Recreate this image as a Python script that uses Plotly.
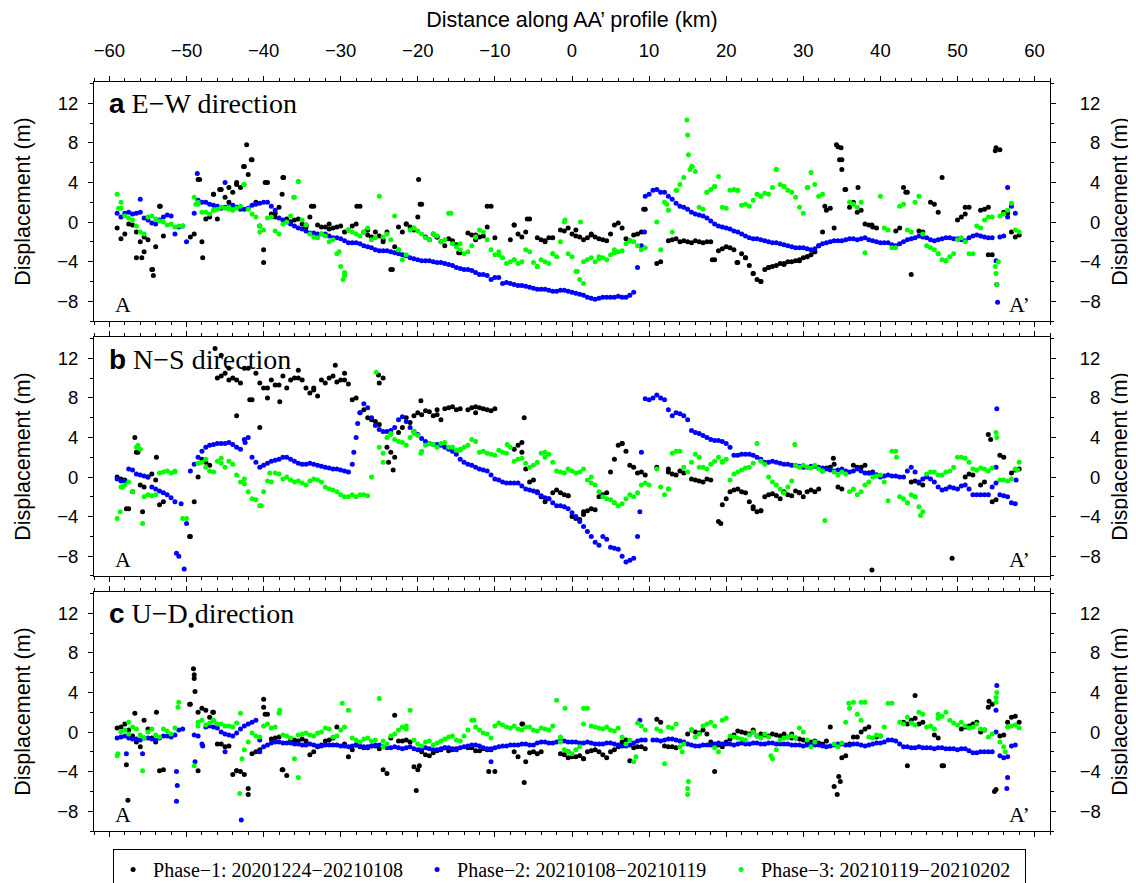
import plotly.graph_objects as go

# ---------------- data ----------------
# sample positions along the profile (km)
X_KM = [-59, -58, -57, -56, -55, -54, -53, -52, -51, -50, -49, -48, -47, -46, -45, -44, -43, -42, -41, -40,
        -39, -38, -37, -36, -35, -34, -33, -32, -31, -30, -29, -28, -27, -26, -25, -24, -23, -22, -21, -20,
        -19, -18, -17, -16, -15, -14, -13, -12, -11, -10, -9, -8, -7, -6, -5, -4, -3, -2, -1, 0,
        1, 2, 3, 4, 5, 6, 7, 8, 9, 10, 11, 12, 13, 14, 15, 16, 17, 18, 19, 20,
        21, 22, 23, 24, 25, 26, 27, 28, 29, 30, 31, 32, 33, 34, 35, 36, 37, 38, 39, 40,
        41, 42, 43, 44, 45, 46, 47, 48, 49, 50, 51, 52, 53, 54, 55, 56, 57, 58]
# intermediate positions (half-km)
X_HALF = [-58.5, -57.5, -56.5, -55.5, -54.5, -53.5, -52.5, -51.5, -50.5, -49.5,
          -48.5, -47.5, -46.5, -45.5, -44.5, -43.5, -42.5, -41.5, -40.5, -39.5,
          -38.5, -37.5, -36.5, -35.5, -34.5, -33.5, -32.5, -31.5, -30.5, -29.5,
          -28.5, -27.5, -26.5, -25.5, -24.5, -23.5, -22.5, -21.5, -20.5, -19.5,
          -18.5, -17.5, -16.5, -15.5, -14.5, -13.5, -12.5, -11.5, -10.5, -9.5,
          -8.5, -7.5, -6.5, -5.5, -4.5, -3.5, -2.5, -1.5, -0.5, 0.5,
          1.5, 2.5, 3.5, 4.5, 5.5, 6.5, 7.5, 8.5, 9.5, 10.5,
          11.5, 12.5, 13.5, 14.5, 15.5, 16.5, 17.5, 18.5, 19.5, 20.5,
          21.5, 22.5, 23.5, 24.5, 25.5, 26.5, 27.5, 28.5, 29.5, 30.5,
          31.5, 32.5, 33.5, 34.5, 35.5, 36.5, 37.5, 38.5, 39.5, 40.5,
          41.5, 42.5, 43.5, 44.5, 45.5, 46.5, 47.5, 48.5, 49.5, 50.5,
          51.5, 52.5, 53.5, 54.5, 55.5, 56.5, 57.5]

N = None

# ---- panel a: E-W ----
EW_P1 = [-0.6, -1.2, -0.3, -2.0, -1.8, -2.5, -1.4, N, N, N, -1.2, -2.0, 0.5, 0.3, 2.5, 3.0, 3.5, 4.8, 2.0, -2.8,
         0.8, 1.5, 0.3, 0.2, -0.2, 0.5, -0.3, -0.5, -0.6, -0.4, -0.8, -0.2, -1.0, -1.5, -1.4, -1.0, -2.5, -1.0, -0.5, 0.5,
         -1.5, -1.2, -2.0, -1.7, -2.3, N, -1.3, -1.5, -0.5, -1.6, N, -1.8, -1.2, -1.0, N, -1.8, -1.6, N, -0.9, -1.2,
         -1.5, -1.6, -1.5, -1.8, -1.2, -0.1, -1.7, -1.3, -1.0, N, -4.2, N, -1.8, -2.0, -2.0, -1.9, -2.1, -2.0, -2.9, -2.5,
         -2.8, -3.2, -4.4, -5.8, -4.8, -4.5, -4.2, -4.0, -3.9, -3.6, -3.3, -2.4, 1.2, -0.6, 6.3, 1.5, 1.0, -0.2, -0.5, N,
         N, -0.9, 3.5, -5.3, -0.9, N, 1.8, 4.5, N, 0.2, 0.8, N, 1.2, 1.5, 7.5, 1.0, -1.0, -1.3]
EW_P1_HALF = [-1.7, -0.2, -3.6, -1.5, -4.8, 1.6, N, N, N, -1.5,
              4.3, 0.3, 2.8, 3.3, 3.5, 3.8, 5.6, 6.3, -0.4, 4.0,
              0.9, 4.5, 0.0, 0.3, -0.3, 1.6, -0.5, -0.7, -0.5, -1.0,
              -0.4, 1.6, -1.3, -1.0, -2.0, -4.8, -0.5, -0.2, -0.8, 1.8,
              -1.8, -1.5, -2.4, -1.9, -3.1, -1.1, -1.3, -1.4, 1.6, N,
              N, -0.3, -1.5, 0.3, -1.6, -1.9, -1.6, -0.8, -0.6, -1.4,
              -1.8, -1.3, -1.7, -1.9, -0.3, -0.6, -1.9, -1.2, 1.3, N,
              -4.0, -1.9, -1.7, -1.9, -2.1, -2.0, -2.0, -3.8, -2.7, -2.6,
              -4.1, -3.6, -5.2, -6.0, -4.6, -4.4, -4.2, -4.0, -3.8, -3.5,
              -3.0, -1.0, 1.4, 7.6, 3.3, 2.0, 1.2, -0.3, -0.6, N,
              N, -0.6, 3.0, N, -1.0, 2.0, 1.0, N, N, 0.5,
              1.5, N, 1.3, -3.3, 7.3, 0.9, -1.5]
EW_P1_EXTRA_X = [-55.8, -54.4, -54.3, -53.4, -48.3, -47.9, -46.5, -45.7, -42.2, -41.6, -42.6, -39.8, -40.0, -37.4,
                 -37.6, -33.8, -27.9, -23.3, -19.9, -19.7, -14.7, -11.0, -5.8, 9.3, 18.2, 21.4, 34.3, 34.9, 34.7,
                 35.0, 35.4, 37.1, 43.3, 54.9, 54.0, 32.8, 38.9, 24.5, 25.5, 29.5, 51.0, -56.5, -55.5, -44.5,
                 -43.5, -38.5, -36.5, -34.5, -31.5, -26.5, -24.5, -21.5, -17.5, -12.5, -7.5, -3.5, 0.5, 2.5,
                 22.5, 23.5, 27.5, 30.5, 31.5]
EW_P1_EXTRA_Y = [-3.6, -4.8, -5.4, 1.6, 4.3, -3.6, 2.8, 3.3, 7.8, 6.3, 5.6, 4.0, -4.1, 4.5,
                 2.8, 1.6, 1.6, -4.8, 4.3, 1.8, -3.1, 1.6, 0.3, 1.3, -3.8, -4.1, 7.8, 7.5, 6.3,
                 5.3, 3.3, 3.5, 3.0, 7.2, -3.3, 1.6, -0.3, -6.0, -4.6, -3.9, 1.5, -1.0, -3.0, 2.0,
                 4.0, 0.5, 0.0, -0.5, -0.2, -0.8, -1.8, -0.2, -1.5, -1.8, -0.3, -2.0, -0.8, -1.2,
                 -3.6, -5.2, -4.3, -3.5, -3.0]

EW_P2 = [0.9, 0.9, 0.8, 1.0, 0.2, -0.2, 0.5, 0.6, -0.5, -2.0, 0.9, 2.0, 1.8, 1.6, 1.5, 1.7, 1.3, 1.4, 1.8, 2.0,
         1.6, 0.4, 0.0, -0.4, -0.7, -1.1, -1.2, -1.2, -1.6, -1.7, -2.1, -2.1, -2.4, -2.6, -2.9, -2.9, -3.1, -3.3, -3.6, -3.8,
         -3.9, -4.0, -4.1, -4.3, -4.6, -4.8, -4.9, -5.3, -5.4, -5.6, -6.2, -6.2, -6.4, -6.5, -6.7, -6.8, -6.9, -7.0, -6.9, -7.1,
         -7.3, -7.6, -7.8, -7.6, -7.6, -7.5, -7.6, -7.1, -2.4, 2.8, 3.3, 3.0, 2.3, 1.6, 1.3, 0.8, 0.6, 0.1, -0.4, -0.6,
         -0.9, -1.2, -1.6, -1.7, -1.9, -2.1, -2.2, -2.4, -2.6, -2.6, -2.8, -2.4, -2.1, -1.9, -1.9, -1.7, -1.8, -1.6, -1.9, -2.1,
         -2.1, -2.4, -2.0, -1.7, -1.4, -1.6, -1.9, -1.7, -1.6, -1.7, -1.9, -1.4, -1.4, -1.6, -3.9, -1.4, 1.6, N]
EW_P2_HALF = [0.5, 1.0, 0.9, 0.4, -0.1, 0.2, 0.7, -1.2, -0.4, N, 2.2, 2.0, 1.7, 1.4, 1.6, 1.5, 1.3, 1.7, 1.9, 2.0,
              1.2, 0.2, -0.2, -0.6, -0.9, -1.1, -1.2, -1.4, -1.6, -1.9, -2.1, -2.2, -2.5, -2.8, -2.9, -3.0, -3.2, -3.4,
              -3.7, -3.9, -3.9, -4.1, -4.2, -4.4, -4.7, -4.8, -5.1, -5.3, -5.8, -5.6, -6.1, -6.3, -6.4, -6.6, -6.8,
              -6.8, -7.0, -6.9, -7.0, -7.2, -7.4, -7.7, -7.7, -7.6, -7.6, -7.6, -7.4, -4.6, 2.6, 3.2, 3.0, 2.6, 1.9,
              1.5, 1.0, 0.7, 0.4, -0.2, -0.5, -0.7, -1.0, -1.4, -1.7, -1.8, -2.0, -2.1, -2.3, -2.5, -2.6, -2.7, -2.7,
              -2.2, -2.0, -1.9, -1.8, -1.7, -1.7, -1.8, -2.0, -2.1, -2.3, -2.2, -1.8, -1.6, -1.5, -1.8, -1.8, -1.6,
              -1.7, -1.8, -1.6, -1.3, -1.5, -1.6, -1.5, 0.5, 0.9]
EW_P2_EXTRA_X = [-56.0, -48.6, -45.0, 9.4, 55.1, 55.2, 56.5]
EW_P2_EXTRA_Y = [2.3, 4.9, 4.0, -1.0, -6.3, -8.1, 3.5]

EW_P3 = [2.8, 0.6, 0.2, -1.0, 0.5, 0.3, 0.0, -0.2, -0.4, N, 2.5, 1.0, 0.8, 1.3, 1.4, 1.2, 1.6, 1.3, 0.5, -0.8,
         0.5, -1.2, 0.0, 2.5, 0.2, -1.2, -1.6, -1.4, -1.8, -4.5, -0.8, -1.2, -1.0, -1.8, 2.6, -1.2, 0.6, -3.8, -0.8, -0.9,
         -1.6, -1.2, -2.0, 0.9, -2.5, -3.2, -2.4, -0.8, -1.8, -3.3, -3.6, -4.0, -4.2, -2.8, -4.1, -3.8, -4.2, -3.5, 0.0, -3.5,
         -5.8, -3.8, -4.0, -3.6, -3.3, -3.0, -2.2, -2.0, -2.8, N, 0.0, 2.0, -1.0, 3.8, 8.8, 5.1, 1.3, 3.3, 4.6, 1.4,
         3.3, 1.7, 1.6, 2.8, 2.9, 3.5, 3.8, 3.2, 2.5, 0.9, 5.0, 2.6, N, N, N, 2.0, 1.5, -3.1, N, 2.6,
         -0.8, -2.6, 1.8, -1.0, 2.6, -2.4, -2.8, -3.8, -3.5, -1.8, -2.0, -3.2, -0.6, 0.5, -5.2, 0.8, 1.9, -1.0]
EW_P3_HALF = [1.4, 0.4, -0.4, -1.2, 0.6, 0.1, -0.3, -0.5, -0.4, N,
              1.8, 1.0, 1.2, 1.5, 1.3, 1.4, 3.8, 0.8, -1.0, 0.4,
              -0.9, -0.2, 0.6, 4.1, -0.3, -1.5, -1.2, -2.0, -3.2, -5.4,
              -1.0, -1.4, -0.6, -1.6, -1.5, -1.8, -2.8, -3.3, -0.6, -1.2,
              -1.8, -1.4, -1.8, -2.2, -2.8, -3.0, -1.5, -1.0, -2.8, -3.3,
              -4.2, -3.8, -4.0, -3.0, -4.5, -4.0, -3.2, -2.0, -3.2, -5.0,
              -4.0, -3.6, -3.7, -3.8, -3.1, -2.9, -1.9, -2.4, -2.6, N,
              -2.8, 1.2, 3.2, 4.5, 5.6, 1.5, 3.0, 3.6, 1.5, 3.2,
              3.2, 1.8, 2.2, 2.6, 2.8, 5.3, 3.6, 3.0, 1.5, 3.5,
              3.8, 2.8, N, N, N, 1.8, 2.0, N, N, -0.6,
              -2.6, 1.6, -0.8, 2.0, -1.2, -2.6, -3.2, -3.9, -3.2, -1.6,
              -3.2, -0.4, 0.2, 0.5, 0.6, 1.2, -0.8]
EW_P3_EXTRA_X = [-58.8, -58.5, -48.8, -48.5, -42.6, -35.5, -36.1, -29.7, -29.5, -30.2, -22.5, -15.7, -14.5, -9.5,
                 -0.9, 0.7, 1.1, 1.5, 14.9, 15.1, 15.6, 15.3, 17.5, 18.5, 26.5, 30.6, 55.1, 55.3, 54.9, 12.3,
                 13.6, -46.5, -44.5, -40.5, -20.5, -12.5, -7.5, -4.5, -2.5, 3.5, 5.5, 21.5, 24.5, 27.5, 36.5,
                 47.5, 48.5]
EW_P3_EXTRA_Y = [1.4, 2.0, 1.8, 2.0, 3.8, 4.1, 2.5, -5.8, -5.1, -3.0, -2.8, 0.9, -2.2, -3.0,
                 0.2, -5.0, 0.0, -6.2, 10.3, 6.8, 5.6, 5.3, 3.0, 3.6, 5.3, 3.5, -6.3, -4.0, -4.5, 1.8,
                 3.2, 1.2, 1.5, -0.4, -0.6, -1.5, -3.8, -4.5, -3.2, -3.5, -2.8, 3.2, 2.6, 3.6, 1.8,
                 -3.2, -3.9]

# ---- panel b: N-S ----
NS_P1 = [0.0, -0.3, -1.5, -0.8, 0.0, -0.3, -2.5, N, N, N, -2.5, 1.8, 1.2, 10.0, 10.5, 10.0, 9.5, 11.0, 10.5, 9.0,
         9.8, 9.3, 9.0, 10.0, 9.8, 8.5, 8.2, 9.5, 10.2, 9.8, 9.4, 8.0, 6.8, 5.8, 5.3, 3.0, 2.0, 5.0, 5.5, 6.5,
         6.7, 6.2, 5.8, 7.0, 6.8, N, 7.0, 7.0, 6.8, 6.9, N, N, 3.2, 0.8, -0.3, -2.0, -2.2, -1.3, -1.8, -4.0,
         -4.3, -3.4, -3.3, -1.8, 0.5, 3.2, 2.6, 1.0, 0.5, N, 1.0, N, 0.3, 0.6, N, -0.3, -0.5, -0.3, -4.5, -2.2,
         -1.3, -1.5, -2.5, -3.5, -2.0, -1.7, -2.2, -1.8, -1.4, -2.0, -1.3, -1.2, 0.9, 1.3, -1.2, N, 1.0, 1.2, 0.5, N,
         N, N, N, -0.5, -0.6, N, N, N, N, N, 0.0, 0.2, -0.8, 4.3, -2.3, 2.0, 0.4, 0.8]
NS_P1_HALF = [-0.2, -3.2, 2.5, -1.0, 0.3, -2.8, N, N, N, -6.0,
              0.0, 1.5, N, 10.2, 9.8, 9.8, 11.0, 7.8, 9.5, 9.0,
              9.3, 10.2, 9.8, 10.0, 9.0, 8.8, 9.8, 10.0, 9.6, 9.8,
              7.8, 6.5, 6.0, 5.6, 10.0, 2.5, 4.5, 6.0, 6.2, 6.3,
              6.6, 6.3, 6.9, 7.1, 6.9, 6.8, 7.1, 6.9, 6.7, N,
              N, 2.8, 2.5, -0.5, -1.5, -2.5, -1.6, -1.6, -1.9, -4.2,
              -3.5, -3.2, -2.0, -1.6, 1.8, 3.4, 1.2, 0.4, 0.2, N,
              N, 0.5, 0.2, 0.4, -0.2, -0.4, -0.2, N, -2.8, -1.5,
              -1.2, -1.6, -3.0, -3.4, -1.8, -1.9, -1.5, -1.9, -1.6, -1.5,
              -1.5, 0.6, 1.0, -1.0, N, 1.2, 1.0, 0.4, 0.2, N,
              N, N, N, -0.4, -0.8, N, N, N, N, N,
              0.3, N, -0.5, -2.5, 2.2, N, 0.7]
NS_P1_EXTRA_X = [-56.7, -56.3, -57.8, -55.7, -53.9, -49.6, -46.3, -45.5, -44.5, -43.5, -41.8, -40.5, -39.5, -37.9,
                 -35.5, -33.5, -30.7, -29.5, -25.1, -25.0, -23.2, -23.8, -19.6, -17.5, -12.5, -6.2, -6.5,
                 -0.5, 1.5, 6.5, 38.9, 49.3, 54.3, 19.3, 23.5, 24.5, 27.5, 29.5, 33.9, 12.5]
NS_P1_EXTRA_Y = [4.0, 2.5, -3.2, -3.5, 2.0, -6.0, 13.0, 12.3, 11.0, 6.2, 7.8, 5.0, 8.0, 7.6,
                 10.8, 9.0, 11.3, 10.5, 10.3, 9.5, 0.7, 1.5, 7.7, 6.8, 6.5, 6.0, 3.5,
                 -1.9, -3.8, 3.4, -9.4, -8.2, 3.8, -4.7, -3.2, -3.4, -1.6, -1.6, 1.9, 0.8]

NS_P2 = [-0.2, -0.4, 0.7, 0.2, 0.0, -1.2, -1.6, -2.1, -8.0, -4.7, 1.3, 2.6, 3.2, 3.4, 3.4, 3.3, 2.8, 4.0, 1.5, 1.2,
         1.6, 1.8, 2.0, 1.6, 1.3, 1.4, 1.2, 1.0, 0.8, 0.7, 0.5, 4.0, 7.4, 6.0, 4.8, 4.6, 5.0, 6.1, 5.0, 4.3,
         3.6, 3.3, 3.2, 2.8, 2.3, 1.5, 1.2, 0.8, 0.6, -0.2, -0.5, -0.6, -0.6, -1.2, -1.4, -1.9, -2.2, -2.9, -3.0, -3.6,
         -4.5, -5.5, -6.6, -6.0, -7.1, -7.3, -8.6, -8.2, 2.5, 7.8, 8.3, 7.8, 6.2, 6.4, 5.8, 4.5, 4.2, 3.8, 3.7, 3.4,
         2.2, 2.3, 2.3, 2.0, 1.5, 1.6, 1.4, 1.3, 1.2, 1.0, 1.1, 1.0, 0.8, 0.6, 0.8, 0.5, 0.8, 0.4, 0.4, 0.0,
         0.2, 0.1, 0.0, 1.0, -0.5, 0.0, -0.5, -1.3, -1.0, -1.2, -0.8, -1.8, -1.8, -1.8, 1.0, -1.9, -2.6, N]
NS_P2_HALF = [-0.4, 0.8, 0.3, 0.1, -1.0, -1.4, -1.8, -2.5, N, 0.6, 2.0, 3.0, 3.3, 3.4, 3.5, 3.0, 3.8, 2.0, 1.0, 1.4,
              1.7, 2.0, 1.8, 1.4, 1.3, 1.3, 1.1, 0.9, 0.8, 0.6, 1.3, 6.5, 7.0, 5.2, 4.6, 4.7, 5.8, 5.6, 4.6, 3.9,
              3.4, 3.3, 3.0, 2.6, 1.8, 1.3, 1.0, 0.7, 0.2, -0.3, -0.6, -0.6, -0.9, -1.3, -1.6, -2.1, -2.6, -2.9,
              -3.2, -4.0, -5.0, -6.0, -6.9, -6.3, -7.2, -8.0, -8.4, -6.0, 7.9, 8.0, 8.0, 6.8, 6.5, 6.2, 4.7, 4.4,
              4.0, 3.7, 3.6, 3.0, 2.2, 2.3, 2.2, 1.8, 1.5, 1.5, 1.3, 1.2, 1.1, 1.0, 1.1, 0.9, 0.7, 0.7, 0.6, 0.6,
              0.6, 0.4, 0.2, 0.1, 0.1, 0.0, 0.6, 0.5, -0.2, -0.2, -1.0, -1.2, -1.1, -0.9, -1.2, -1.8, -1.8, -1.0,
              -1.8, -2.0, -2.7]
NS_P2_EXTRA_X = [-51.3, -50.3, -50.7, 8.8, 55.1, 55.0, 57.6, -28.3, -27.8, -42.4]
NS_P2_EXTRA_Y = [-7.7, -9.3, -2.7, -3.5, 6.9, -0.6, -0.3, 2.5, 5.4, 3.5]

NS_P3 = [-4.2, -0.8, -1.5, 2.8, -1.8, -1.8, 0.5, 0.4, N, -4.2, N, 1.5, 0.6, 1.6, 1.0, 1.3, -0.5, -1.5, -2.3, -1.5,
         -0.5, 0.3, 0.0, -0.5, -0.6, -0.4, -0.3, -1.0, -1.3, -1.8, -2.0, -2.0, -1.8, 0.0, 3.0, 4.0, 3.8, 3.5, 4.0, 4.2,
         3.2, 3.3, 3.4, 3.0, 2.7, 3.0, 3.8, 2.5, 2.4, 2.2, 2.5, 3.0, 1.8, 1.4, 1.2, 2.4, 2.3, 0.6, 0.4, 0.6,
         0.5, -0.3, -0.8, -2.0, -2.3, -2.9, -2.2, -2.0, -0.8, -0.8, 0.8, -1.8, 2.4, 2.6, 0.5, 2.3, 1.0, 1.3, 2.0, 1.8,
         0.3, 0.7, 1.0, 3.4, 1.3, -0.5, -1.2, -1.0, 1.2, 1.2, 0.9, 0.8, N, 0.5, 0.5, -1.5, -1.8, -0.8, 0.0, 0.2,
         -2.4, 2.6, -2.2, -1.8, -3.0, 0.3, 0.5, 0.2, 0.6, 2.0, 1.9, 0.8, 0.9, 0.6, 4.5, -0.3, -0.2, 1.5]
NS_P3_HALF = [-1.0, -0.5, 3.0, -2.0, -1.9, 0.4, 0.6, 0.5, -4.2, N,
              1.4, 1.0, 0.5, 1.4, 1.6, 0.2, -0.7, -2.2, -2.9, -0.4,
              0.4, -0.2, -0.3, -0.4, -0.8, -0.2, -0.5, -1.2, -1.5, -2.0,
              -1.8, -1.8, -1.9, N, 2.4, 4.3, 3.6, 3.2, 4.4, 2.6,
              3.4, 3.0, 3.5, 3.0, 2.8, 3.2, 3.6, 2.6, 2.3, 2.7,
              2.4, 1.6, 1.9, 1.0, 1.5, 2.5, 1.5, 0.5, 0.8, 0.4,
              0.8, -0.6, -1.5, -2.2, -2.6, -2.7, -1.8, -1.6, -0.6, N,
              -1.0, -1.2, 2.6, 1.0, 1.5, 2.0, 0.8, 1.6, 1.5, -0.3,
              0.5, 0.9, 1.4, 1.6, 0.0, -0.8, -1.6, -0.4, 1.0, 1.0,
              1.2, 0.6, N, 0.2, 0.3, -1.2, -1.5, -0.5, 0.1, -0.5,
              2.6, -2.0, -2.6, -2.0, -3.5, 0.5, 0.2, 0.5, 1.0, 2.0,
              1.5, 0.7, 0.8, 0.9, -0.3, -0.4, 0.8]
NS_P3_EXTRA_X = [-58.6, -58.3, -56.3, -55.7, -51.5, -47.5, -45.5, -42.5, -40.3, -39.2, -25.4, -24.5, -23.5, -20.5,
                 -19.6, -14.5, -8.4, -3.5, 2.5, 5.5, 12.5, 16.5, 19.5, 28.9, 32.8, 45.2, 42.1, 43.5, 44.5,
                 55.1, 57.8]
NS_P3_EXTRA_Y = [-3.5, -1.0, 3.2, -4.7, 0.6, 1.8, 1.9, -0.2, -2.9, 0.4, 10.6, 1.5, 4.4, 4.6,
                 2.4, 2.7, 3.3, 2.0, 0.0, -2.6, -1.2, 1.0, 1.6, 3.3, -4.4, -3.9, 2.0, -2.6, -2.0,
                 4.0, 0.7]

# ---- panel c: U-D ----
UD_P1 = [0.4, 0.8, -0.4, -1.5, 0.3, -1.0, -3.8, N, N, N, 5.4, 2.4, 1.5, -1.2, -1.5, -4.3, -4.0, -5.7, -2.0, 2.5,
         -0.7, -0.5, -4.4, -0.8, -0.7, -2.3, -1.5, -0.9, -0.6, N, -2.5, -1.3, -1.6, -1.4, -1.7, -4.2, 1.7, -0.9, -1.0, -3.8,
         -2.3, -2.1, -1.8, -1.9, -1.7, N, -1.6, -1.9, -1.8, -4.0, N, N, -2.5, -3.0, -2.0, -2.0, N, N, -2.3, -2.5,
         -2.4, -2.0, -1.8, -2.3, -2.0, -1.5, -0.8, -1.6, -1.5, N, 1.3, -1.4, -1.5, N, -0.2, 0.0, 0.2, -1.0, -1.3, -1.0,
         -0.3, 0.0, -0.2, -0.4, -0.3, -0.2, -0.4, -0.5, -0.6, -0.8, -1.0, -1.1, -0.9, -5.5, -2.6, -1.2, -0.5, 0.3, N, -0.4,
         N, N, 1.0, 1.2, 0.8, N, -0.3, -3.4, N, N, 0.5, 0.8, 0.0, 2.5, -5.8, -0.3, 1.5, 1.0]
UD_P1_HALF = [0.5, 0.2, -1.0, 1.2, -0.6, -3.9, N, N, N, 2.8,
              2.0, 2.2, 2.0, -1.2, -1.4, -3.9, -4.3, -2.2, -1.8, 1.8,
              -0.6, -3.8, -0.8, -0.9, -0.9, -2.0, -1.3, -0.8, 0.5, -1.2,
              -1.8, -1.5, -1.6, -1.4, -3.8, -0.6, -0.9, -0.8, -3.5, -2.0,
              -2.4, -1.9, -1.6, -1.8, N, -1.6, -1.9, -1.7, -1.8, N,
              N, -2.0, 0.8, -2.1, -2.2, N, N, -2.2, -2.6, -2.5,
              -2.7, -1.9, -2.0, -2.6, -1.8, -1.0, -2.9, -1.5, -1.7, N,
              1.0, -1.5, -1.6, N, 0.2, -0.1, -0.2, -4.0, -1.5, -0.7,
              0.1, -0.1, 0.0, -0.2, -0.4, -0.3, -0.2, -0.6, -0.7, -1.0,
              -0.9, -1.2, 0.5, N, -2.4, -0.5, 0.0, 0.5, -0.5, N,
              N, N, 0.8, 1.4, 1.0, N, -0.6, N, N, 0.3,
              0.6, 1.0, 0.2, 2.8, -0.4, 1.0, 1.6]
UD_P1_EXTRA_X = [-57.6, -57.8, -56.7, -53.9, -49.4, -49.1, -49.0, -48.9, -49.6, -48.5, -46.6, -42.0, -43.5, -40.0,
                 -39.8, -37.6, -20.2, -19.8, -10.8, -6.2, -6.4, -0.5, 1.5, 34.4, 34.8, 34.6, 43.5, 44.5, 54.8,
                 54.1, 48.2, 23.5, 28.5]
UD_P1_EXTRA_Y = [-6.9, -3.3, 1.9, 2.0, 10.8, 6.4, 5.8, 4.1, 2.8, -3.9, 2.0, -6.3, -3.9, 3.3,
                 1.8, -3.8, -5.9, -3.4, -4.0, -5.1, 0.8, -2.0, -2.7, -6.3, -5.0, -4.5, -3.4, 3.7, -6.0,
                 3.1, -3.4, 0.2, -0.2]

UD_P2 = [-0.6, -0.4, -0.7, -0.8, -0.6, -0.8, -0.4, -0.5, 0.2, N, -0.3, -1.2, 0.6, 0.4, -0.2, -0.4, 0.3, 0.8, 1.2, -1.5,
         -1.1, -1.0, -1.1, -1.2, -1.3, -1.2, -1.4, -1.3, -1.3, -1.4, -1.5, -1.3, -1.5, -1.4, -1.3, -1.6, -1.5, -1.7, -1.5, -1.8,
         -1.6, -1.8, -1.7, -1.6, -1.8, -1.5, -1.3, -1.4, -1.7, -1.6, -1.4, -1.3, -1.3, -1.2, -1.3, -1.0, -1.1, -1.0, -0.9, -1.0,
         -1.1, -1.0, -1.2, -1.2, -1.1, -1.3, -1.4, -1.1, -0.8, N, -0.8, -0.8, -0.7, -0.9, -1.2, -1.4, -1.3, -1.3, -1.1, -1.2,
         -1.3, -1.1, -1.2, -1.1, -1.2, -1.1, -1.2, -1.2, -1.3, -1.4, -1.2, -1.3, -1.5, -1.3, -1.2, -1.3, -1.2, -1.4, -1.2, -1.1,
         -0.8, -0.9, -1.5, -1.6, -1.5, -1.6, -1.7, -1.6, -1.7, -1.8, -1.7, -2.1, -2.0, -2.0, 0.0, -2.6, -1.4, N]
UD_P2_HALF = [-0.5, -0.6, -0.7, -0.6, -0.7, -0.6, -0.4, -0.3, 0.3, N, -0.4, 0.5, 0.5, 0.0, -0.3, -0.1, 0.6, 1.0, -0.8,
              -1.3, -1.0, -1.1, -1.1, -1.2, -1.3, -1.3, -1.4, -1.3, -1.3, -1.4, -1.4, -1.4, -1.5, -1.3, -1.5, -1.6,
              -1.6, -1.6, -1.7, -1.7, -1.7, -1.8, -1.6, -1.7, -1.6, -1.4, -1.3, -1.6, -1.7, -1.5, -1.4, -1.3, -1.2,
              -1.3, -1.1, -1.0, -1.1, -0.9, -1.0, -1.0, -1.1, -1.1, -1.2, -1.1, -1.2, -1.4, -1.3, -0.9, -0.8, -0.8,
              -0.9, -0.7, -0.8, -1.0, -1.3, -1.4, -1.3, -1.2, -1.2, -1.2, -1.2, -1.2, -1.1, -1.2, -1.1, -1.2, -1.2,
              -1.3, -1.3, -1.3, -1.3, -1.4, -1.4, -1.2, -1.3, -1.2, -1.3, -1.3, -1.1, -1.0, -0.8, -1.2, -1.5, -1.6,
              -1.6, -1.6, -1.6, -1.7, -1.7, -1.7, -1.9, -2.1, -2.0, -2.0, -2.4, -2.5, -1.3]
UD_P2_EXTRA_X = [-57.8, -55.7, -51.3, -51.2, -51.3, -48.9, -47.9, -45.0, -42.9, -40.5, -10.5, 8.8, 55.1, 55.0,
                 56.5, 56.4]
UD_P2_EXTRA_Y = [-2.2, -2.2, -4.0, -5.4, -7.0, -3.0, -1.4, -2.0, -8.9, -2.0, -3.0, 1.2, 4.7, 2.2,
                 -4.6, -5.7]

UD_P3 = [-2.4, 0.2, 0.5, -0.3, 0.0, -0.3, 0.3, -0.2, 3.0, N, -3.4, 1.2, 0.9, 0.8, 0.6, 0.5, 1.9, -1.0, -0.4, 0.6,
         0.4, 1.9, -0.4, -2.7, -0.2, -0.3, -0.1, 0.4, -0.5, 0.2, 2.2, -0.8, -0.7, -0.9, 3.4, -1.2, -0.2, 0.5, 2.2, -1.2,
         -1.0, -1.3, -0.9, -0.5, -0.8, -0.4, 1.2, 0.2, -0.2, 0.6, 0.7, 0.4, 0.3, 0.5, 0.2, 0.4, 0.2, 3.2, -1.8, -2.2,
         -1.5, 2.4, 0.5, 0.3, 0.2, 0.4, -1.2, -3.0, 0.6, N, 0.3, -3.2, 0.4, -1.5, -5.7, -0.5, 0.6, 1.0, -2.0, 1.4,
         -0.5, -0.7, -0.3, -0.4, -0.2, -2.7, -0.8, -0.5, -0.6, 0.0, -1.5, N, N, -1.2, -1.1, 2.4, 1.8, 3.0, -0.6, -0.4,
         2.9, N, 0.8, 0.9, 2.0, 0.5, 0.3, 1.6, 1.2, 0.7, 0.6, 0.5, 0.3, -0.5, 3.5, -1.5, 0.6, 0.4]
UD_P3_HALF = [0.0, -0.2, 0.3, -0.6, 0.3, -0.5, 0.1, 0.4, N, N,
              1.0, 0.7, 1.1, 0.8, 0.6, 0.9, -1.8, -0.1, -0.5, 0.8,
              0.5, -0.3, -0.6, -0.3, -0.1, -0.4, 0.0, 0.3, -0.4, 0.5,
              -0.6, -1.0, -0.6, -0.8, -0.9, -0.4, 0.2, 0.6, -0.8, -1.4,
              -0.9, -1.1, -0.7, -0.4, -0.9, 0.2, 0.5, -0.1, -0.6, 0.9,
              0.5, 0.6, 0.2, 0.5, 0.1, 0.3, 0.6, -0.5, -2.0, -1.8,
              0.8, 0.6, 0.4, 0.5, 0.1, -0.5, -0.8, 0.9, 0.2, N,
              0.1, 0.5, 0.8, -1.2, 0.2, -0.2, 0.8, -1.6, 1.2, -0.4,
              -0.6, -0.8, 0.0, -0.6, -0.5, -1.8, -0.6, -0.4, 0.4, -0.8,
              -1.0, N, N, -1.5, 1.0, 3.0, 1.2, -0.5, -0.3, 0.5,
              N, 1.0, 1.5, 0.7, 1.8, 0.6, 1.4, 2.0, 0.9, 1.0,
              0.4, 0.8, 0.2, -0.2, -1.0, 0.5, 0.7]
UD_P3_EXTRA_X = [-58.9, -57.5, -55.7, -51.1, -48.5, -46.5, -43.1, -42.8, -37.9, -35.5, -29.8, -24.5, -21.5, -12.7,
                 -1.5, -0.9, 1.5, 8.3, 15.0, 15.1, 14.3, 18.5, 25.8, 35.9, 37.5, 41.5, 47.5, 55.0, 55.1, 56.2]
UD_P3_EXTRA_Y = [-2.2, 1.0, -3.9, 2.5, 0.6, 1.2, -6.2, -2.7, 2.2, -4.6, 2.9, -1.5, 0.3, 1.2,
                 -1.0, 2.4, 2.4, -2.5, -6.3, -5.0, -2.0, 0.6, -2.4, 2.9, 3.0, 2.9, 1.8, 3.0, 4.0, -2.0]

PHASE_NAMES = ["Phase\u22121: 20201224\u221220210108",
               "Phase\u22122: 20210108\u221220210119",
               "Phase\u22123: 20210119\u221220210202"]
PHASE_COLORS = ["#000000", "#0000ff", "#00ff00"]
PANEL_TITLES = [("a", "E\u2212W direction"), ("b", "N\u2212S direction"), ("c", "U\u2212D direction")]
YTICKS = [-8, -4, 0, 4, 8, 12]
YTICK_TEXT_LEFT = ["\u22128", "\u22124", "0", "4", "8", "12"]
# right-hand labels are right-justified in the original: pad the one-digit ones
YTICK_TEXT_RIGHT = ["\u22128", "\u22124", "\u00a0\u00a00", "\u00a0\u00a04", "\u00a0\u00a08", "12"]

PANELS = [
    [(EW_P1, EW_P1_HALF, EW_P1_EXTRA_X, EW_P1_EXTRA_Y), (EW_P2, EW_P2_HALF, EW_P2_EXTRA_X, EW_P2_EXTRA_Y),
     (EW_P3, EW_P3_HALF, EW_P3_EXTRA_X, EW_P3_EXTRA_Y)],
    [(NS_P1, NS_P1_HALF, NS_P1_EXTRA_X, NS_P1_EXTRA_Y), (NS_P2, NS_P2_HALF, NS_P2_EXTRA_X, NS_P2_EXTRA_Y),
     (NS_P3, NS_P3_HALF, NS_P3_EXTRA_X, NS_P3_EXTRA_Y)],
    [(UD_P1, UD_P1_HALF, UD_P1_EXTRA_X, UD_P1_EXTRA_Y), (UD_P2, UD_P2_HALF, UD_P2_EXTRA_X, UD_P2_EXTRA_Y),
     (UD_P3, UD_P3_HALF, UD_P3_EXTRA_X, UD_P3_EXTRA_Y)],
]

for series in PANELS:
    for vals, half, ex, ey in series:
        if len(vals) != len(X_KM) or len(half) != len(X_HALF) or len(ex) != len(ey):
            raise ValueError("length mismatch: %d %d %d %d" % (len(vals), len(half), len(ex), len(ey)))

# ---------------- figure ----------------
fig = go.Figure()

for p, series in enumerate(PANELS):
    xa = "x" if p == 0 else "x%d" % (p + 1)
    ya = "y" if p == 0 else "y%d" % (p + 1)
    for k, (vals, half, ex, ey) in enumerate(series):
        fig.add_trace(go.Scatter(
            x=X_KM + X_HALF + ex, y=vals + half + ey, mode="markers",
            marker=dict(color=PHASE_COLORS[k], size=5, line=dict(width=0)),
            name=PHASE_NAMES[k], legendgroup=PHASE_NAMES[k], showlegend=(p == 0),
            xaxis=xa, yaxis=ya, hoverinfo="skip"))
    # invisible trace carrying the right-hand axis
    fig.add_trace(go.Scatter(x=[None], y=[None], mode="markers", showlegend=False,
                             xaxis=xa, yaxis="y%d" % (p + 4), hoverinfo="skip"))

TICKFONT = dict(family="Liberation Sans, Arial, sans-serif", size=18.5, color="black")
TITLEFONT = dict(family="Liberation Sans, Arial, sans-serif", size=21.5, color="black")

Y_RANGE = [-10, 14.15]
DOMAINS = [[0.6809, 1.0], [0.3405, 0.6595], [0.0, 0.3191]]

# the page body adds an 8 px offset, so the figure is 8 px smaller than the window
layout = dict(
    width=1128, height=875,
    margin=dict(l=86, r=86, t=74, b=52, autoexpand=False),
    paper_bgcolor="white", plot_bgcolor="white",
    font=dict(family="Liberation Sans, Arial, sans-serif", color="black"),
    showlegend=True,
    legend=dict(orientation="h", x=0.02, y=-0.024, xanchor="left", yanchor="top",
                bordercolor="black", borderwidth=1,
                font=dict(family="Liberation Serif, Times New Roman, serif", size=20, color="black"),
                entrywidth=259, entrywidthmode="pixels", itemwidth=30),
)

for p in range(3):
    xkey = "xaxis" if p == 0 else "xaxis%d" % (p + 1)
    ykey = "yaxis" if p == 0 else "yaxis%d" % (p + 1)
    yname = "y" if p == 0 else "y%d" % (p + 1)
    xname = "x" if p == 0 else "x%d" % (p + 1)
    xa = dict(range=[-62, 62], tick0=0, dtick=10, ticks="outside", ticklen=5, tickwidth=1,
              tickcolor="black", showline=True, linecolor="black", linewidth=1, mirror="ticks",
              showgrid=False, zeroline=False, anchor=yname, domain=[0, 1], automargin=False,
              minor=dict(dtick=2, tick0=0, ticks="outside", ticklen=3, tickcolor="black", showgrid=False),
              tickfont=TICKFONT, fixedrange=True)
    if p == 0:
        xa.update(side="top", showticklabels=True, ticklabelstandoff=12,
                  title=dict(text="Distance along AA\u2019 profile (km)", font=TITLEFONT, standoff=6))
    else:
        xa.update(showticklabels=False, matches="x")
    layout[xkey] = xa

    common_y = dict(range=Y_RANGE, tickvals=YTICKS, ticks="outside", ticklen=5, tickwidth=1,
                    tickcolor="black", showline=True, linecolor="black", linewidth=1,
                    showgrid=False, zeroline=False, domain=DOMAINS[p], automargin=False,
                    minor=dict(tickvals=[-10, -6, -2, 2, 6, 10, 14], ticks="outside", ticklen=3,
                               tickcolor="black", showgrid=False),
                    tickfont=TICKFONT, fixedrange=True)
    layout[ykey] = dict(common_y, anchor=xname, side="left", mirror=False,
                        ticktext=YTICK_TEXT_LEFT, ticklabelstandoff=6,
                        title=dict(text="Displacement (m)", font=TITLEFONT, standoff=20))
    layout["yaxis%d" % (p + 4)] = dict(common_y, anchor=xname, side="right", overlaying=yname,
                                       mirror=False, ticktext=YTICK_TEXT_RIGHT, ticklabelstandoff=20,
                                       title=dict(text="Displacement (m)", font=TITLEFONT, standoff=12))

annotations = []
for p, (letter, label) in enumerate(PANEL_TITLES):
    xname = "x" if p == 0 else "x%d" % (p + 1)
    yname = "y" if p == 0 else "y%d" % (p + 1)
    annotations.append(dict(
        text='<span style="font-family:Liberation Sans, Arial, sans-serif;font-weight:bold">%s</span> %s' % (letter, label),
        xref=xname + " domain", yref=yname + " domain", x=0.0135, y=0.908,
        xanchor="left", yanchor="middle", showarrow=False,
        font=dict(family="Liberation Serif, Times New Roman, serif", size=28, color="black")))
    annotations.append(dict(text="A", xref=xname + " domain", yref=yname + " domain",
                            x=0.02, y=0.068, xanchor="left", yanchor="middle", showarrow=False,
                            font=dict(family="Liberation Serif, Times New Roman, serif", size=22, color="black")))
    annotations.append(dict(text="A\u2019", xref=xname + " domain", yref=yname + " domain",
                            x=0.981, y=0.068, xanchor="right", yanchor="middle", showarrow=False,
                            font=dict(family="Liberation Serif, Times New Roman, serif", size=22, color="black")))
layout["annotations"] = annotations

fig.update_layout(**layout)
fig.write_html("out.html")
